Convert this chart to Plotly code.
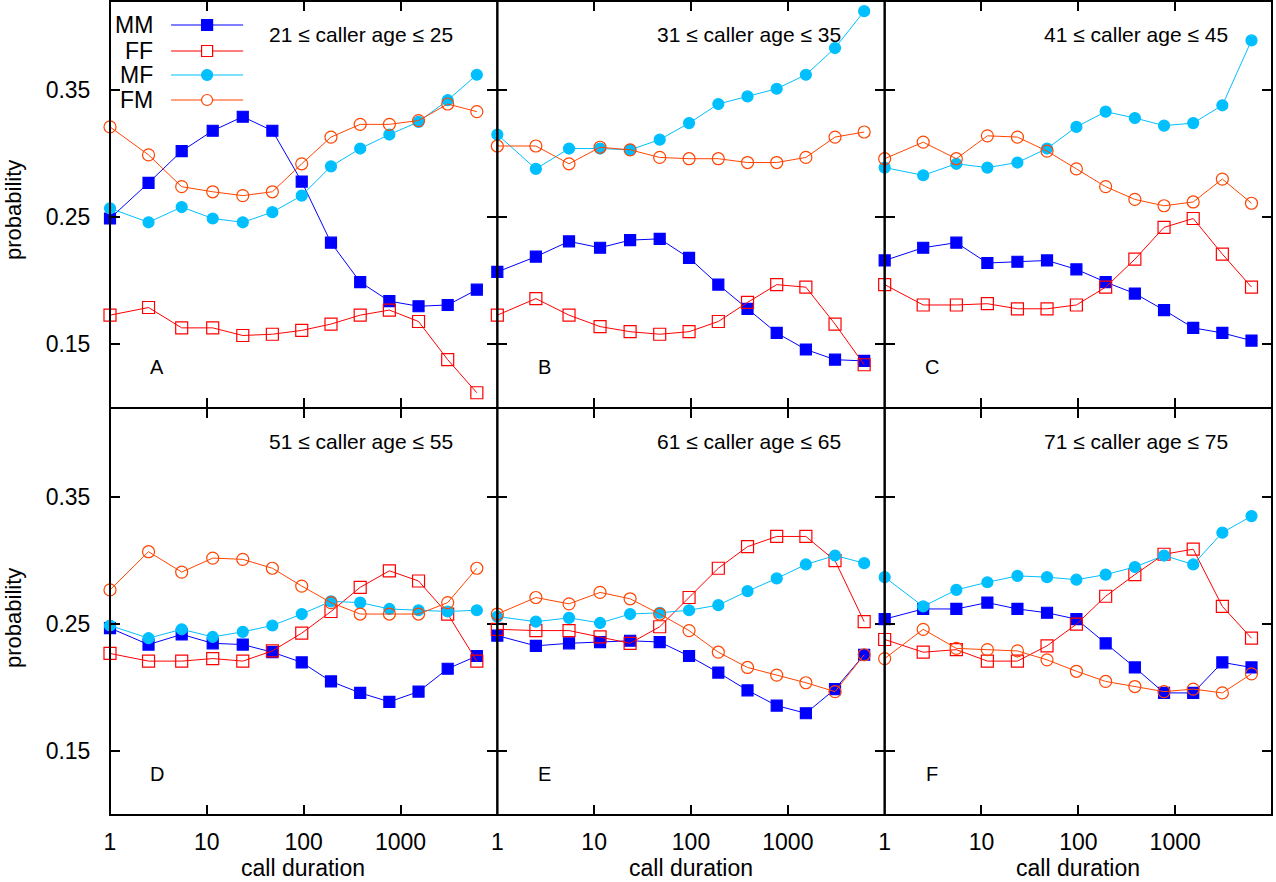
import plotly.graph_objects as go
from plotly.subplots import make_subplots

# call duration bin centres (log2 bins)
duration = [1, 2.5, 5.5, 11.5, 23.5, 47.5, 95.5, 191.5, 383.5, 767.5, 1535.5, 3071.5, 6143.5]

panel_titles = ["21 \u2264 caller age \u2264 25", "31 \u2264 caller age \u2264 35", "41 \u2264 caller age \u2264 45",
                "51 \u2264 caller age \u2264 55", "61 \u2264 caller age \u2264 65", "71 \u2264 caller age \u2264 75"]
panel_letters = ["A", "B", "C", "D", "E", "F"]
series_names = ["MM", "FF", "MF", "FM"]
x_ticks = [1, 10, 100, 1000]
y_ticks = [0.15, 0.25, 0.35]

# Panel A
MM_A = [0.249, 0.277, 0.302, 0.318, 0.329, 0.318, 0.278, 0.230, 0.199, 0.184, 0.180, 0.181, 0.193]
FF_A = [0.173, 0.179, 0.163, 0.163, 0.157, 0.158, 0.161, 0.166, 0.173, 0.177, 0.168, 0.138, 0.112]
MF_A = [0.257, 0.246, 0.258, 0.249, 0.246, 0.254, 0.267, 0.290, 0.304, 0.315, 0.325, 0.342, 0.362]
FM_A = [0.321, 0.299, 0.274, 0.270, 0.267, 0.270, 0.292, 0.313, 0.323, 0.323, 0.326, 0.339, 0.333]
# Panel B
MM_B = [0.207, 0.219, 0.231, 0.226, 0.232, 0.233, 0.218, 0.197, 0.178, 0.159, 0.146, 0.138, 0.137]
FF_B = [0.173, 0.186, 0.173, 0.164, 0.160, 0.158, 0.160, 0.168, 0.183, 0.197, 0.195, 0.166, 0.134]
MF_B = [0.315, 0.288, 0.304, 0.304, 0.303, 0.311, 0.324, 0.339, 0.345, 0.351, 0.362, 0.383, 0.412]
FM_B = [0.306, 0.306, 0.292, 0.305, 0.303, 0.297, 0.296, 0.296, 0.293, 0.293, 0.297, 0.313, 0.317]
# Panel C
MM_C = [0.216, 0.226, 0.230, 0.214, 0.215, 0.216, 0.209, 0.199, 0.190, 0.177, 0.163, 0.159, 0.153]
FF_C = [0.197, 0.181, 0.181, 0.182, 0.178, 0.178, 0.181, 0.195, 0.217, 0.242, 0.249, 0.221, 0.195]
MF_C = [0.289, 0.283, 0.292, 0.289, 0.293, 0.304, 0.321, 0.333, 0.328, 0.322, 0.324, 0.338, 0.389]
FM_C = [0.296, 0.309, 0.296, 0.314, 0.313, 0.302, 0.288, 0.274, 0.264, 0.259, 0.262, 0.280, 0.261]
# Panel D
MM_D = [0.247, 0.234, 0.242, 0.235, 0.234, 0.228, 0.220, 0.205, 0.196, 0.189, 0.197, 0.215, 0.225]
FF_D = [0.227, 0.221, 0.221, 0.223, 0.221, 0.229, 0.243, 0.260, 0.279, 0.292, 0.284, 0.258, 0.221]
MF_D = [0.249, 0.239, 0.246, 0.240, 0.244, 0.249, 0.258, 0.268, 0.267, 0.262, 0.261, 0.260, 0.261]
FM_D = [0.277, 0.307, 0.291, 0.302, 0.301, 0.294, 0.280, 0.267, 0.258, 0.258, 0.258, 0.267, 0.294]
# Panel E
MM_E = [0.241, 0.233, 0.235, 0.236, 0.237, 0.236, 0.225, 0.212, 0.198, 0.186, 0.180, 0.199, 0.226]
FF_E = [0.246, 0.245, 0.245, 0.240, 0.235, 0.248, 0.271, 0.294, 0.311, 0.319, 0.319, 0.300, 0.252]
MF_E = [0.256, 0.252, 0.255, 0.251, 0.258, 0.259, 0.261, 0.265, 0.276, 0.286, 0.297, 0.304, 0.298]
FM_E = [0.258, 0.271, 0.266, 0.275, 0.270, 0.258, 0.245, 0.228, 0.216, 0.210, 0.204, 0.197, 0.226]
# Panel F
MM_F = [0.254, 0.262, 0.262, 0.267, 0.262, 0.259, 0.254, 0.235, 0.216, 0.196, 0.196, 0.220, 0.216]
FF_F = [0.238, 0.228, 0.230, 0.221, 0.221, 0.233, 0.250, 0.272, 0.289, 0.305, 0.309, 0.264, 0.239]
MF_F = [0.287, 0.264, 0.277, 0.283, 0.288, 0.287, 0.285, 0.289, 0.295, 0.304, 0.297, 0.322, 0.335]
FM_F = [0.223, 0.246, 0.231, 0.230, 0.229, 0.222, 0.213, 0.205, 0.201, 0.197, 0.199, 0.196, 0.211]

panels = [
    (MM_A, FF_A, MF_A, FM_A), (MM_B, FF_B, MF_B, FM_B), (MM_C, FF_C, MF_C, FM_C),
    (MM_D, FF_D, MF_D, FM_D), (MM_E, FF_E, MF_E, FM_E), (MM_F, FF_F, MF_F, FM_F),
]

colors = {"MM": "#0000ff", "FF": "#ff0000", "MF": "#00bfff", "FM": "#ff4500"}
symbols = {"MM": "square", "FF": "square-open", "MF": "circle", "FM": "circle-open"}
sizes = {"MM": 11, "FF": 12, "MF": 11, "FM": 12}

FONT = "Liberation Sans, Arial, Helvetica, sans-serif"
W, H = 1276, 882
ML, MR, MT, MB = 110, 4, 1, 67
PW, PH = W - ML - MR, H - MT - MB


def px_x(px):
    return (px - ML) / PW


def px_y(py):
    return (H - MB - py) / PH


fig = make_subplots(rows=2, cols=3, horizontal_spacing=0, vertical_spacing=0)

for i, data in enumerate(panels):
    r, c = i // 3 + 1, i % 3 + 1
    for name, vals in zip(series_names, data):
        fig.add_trace(go.Scatter(
            x=duration, y=vals, mode="lines+markers", name=name, showlegend=False,
            line=dict(color=colors[name], width=1),
            marker=dict(symbol=symbols[name], size=sizes[name], color=colors[name],
                        line=dict(color=colors[name], width=1.2)),
            cliponaxis=False,
        ), row=r, col=c)

for i in range(6):
    r, c = i // 3 + 1, i % 3 + 1
    fig.update_xaxes(type="log", range=[0, 4], tickvals=x_ticks,
                     ticktext=[str(v) for v in x_ticks],
                     showticklabels=(r == 2), automargin=False,
                     ticks="inside", ticklen=10, tickwidth=1.5, tickcolor="black",
                     showline=True, linecolor="rgba(0,0,0,0)", linewidth=1, mirror="allticks",
                     showgrid=False, zeroline=False, ticklabelstandoff=6,
                     tickfont=dict(size=23, color="black", family=FONT),
                     row=r, col=c)
    fig.update_yaxes(range=[0.1, 0.42], tickvals=y_ticks,
                     ticktext=[f"{v:.2f}" for v in y_ticks],
                     showticklabels=(c == 1), automargin=False,
                     ticks="inside", ticklen=10, tickwidth=1.5, tickcolor="black",
                     showline=True, linecolor="rgba(0,0,0,0)", linewidth=1, mirror="allticks",
                     showgrid=False, zeroline=False, ticklabelstandoff=14,
                     tickfont=dict(size=23, color="black", family=FONT),
                     row=r, col=c)

annotations = []
shapes = []
for i in range(6):
    ax = "" if i == 0 else str(i + 1)
    annotations.append(dict(text=panel_titles[i], xref=f"x{ax} domain", yref=f"y{ax} domain",
                            x=1 - 42 / 387, y=1 - 33 / 407, xanchor="right", yanchor="middle",
                            showarrow=False, font=dict(size=21, color="black", family=FONT)))
    annotations.append(dict(text=panel_letters[i], xref=f"x{ax} domain", yref=f"y{ax} domain",
                            x=47 / 387, y=41 / 407, xanchor="center", yanchor="middle",
                            showarrow=False, font=dict(size=20, color="black", family=FONT)))
    shapes.append(dict(type="rect", xref=f"x{ax} domain", yref=f"y{ax} domain",
                       x0=0, x1=1, y0=0, y1=1, line=dict(color="black", width=2),
                       fillcolor="rgba(0,0,0,0)", layer="above"))

# axis titles
for cx in (303, 691, 1078):
    annotations.append(dict(text="call duration", xref="paper", yref="paper",
                            x=px_x(cx), y=px_y(868), xanchor="center", yanchor="middle",
                            showarrow=False, font=dict(size=23, color="black", family=FONT)))
for cy in (210, 618):
    annotations.append(dict(text="probability", xref="paper", yref="paper", textangle=-90,
                            x=px_x(13), y=px_y(cy), xanchor="center", yanchor="middle",
                            showarrow=False, font=dict(size=22, color="black", family=FONT)))

# key in panel A (text left of sample, as in the original)
key_rows = [24, 50, 74, 99]
for name, py in zip(series_names, key_rows):
    yd = 1 - py / 407
    annotations.append(dict(text=name, xref="x domain", yref="y domain", x=(155 - 110) / 387, y=yd,
                            xanchor="right", yanchor="middle", showarrow=False,
                            font=dict(size=23, color="black", family=FONT)))
    shapes.append(dict(type="line", xref="x domain", yref="y domain",
                       x0=(171 - 110) / 387, x1=(243 - 110) / 387, y0=yd, y1=yd,
                       line=dict(color=colors[name], width=1.2)))
    cx = (207 - 110) / 387
    hw, hh = 5.5 / 387, 5.5 / 407
    fill = colors[name] if name in ("MM", "MF") else "white"
    shapes.append(dict(type="rect" if name in ("MM", "FF") else "circle",
                       xref="x domain", yref="y domain",
                       x0=cx - hw, x1=cx + hw, y0=yd - hh, y1=yd + hh,
                       fillcolor=fill, line=dict(color=colors[name], width=1.2)))

fig.update_layout(
    width=W, height=H,
    margin=dict(l=ML, r=MR, t=MT, b=MB, autoexpand=False),
    paper_bgcolor="white", plot_bgcolor="white",
    annotations=annotations, shapes=shapes,
    font=dict(family=FONT, color="black"),
    showlegend=False,
)

fig.write_html("out.html", config={"displayModeBar": False},
               post_script="document.body.style.margin='0';document.body.style.overflow='hidden';")
